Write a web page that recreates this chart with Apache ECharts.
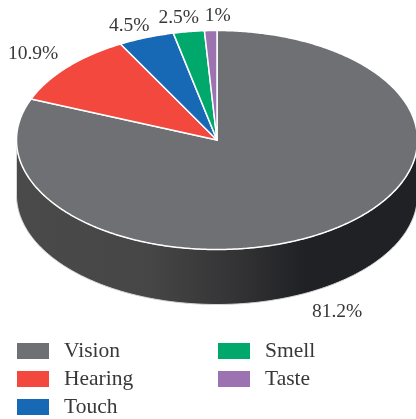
<!DOCTYPE html>
<html><head><meta charset="utf-8">
<style>html,body{margin:0;padding:0;background:#fff}#c{width:416px;height:419px}</style>
<script src="https://cdn.jsdelivr.net/npm/echarts@6/dist/echarts.min.js"></script>
</head><body><div id="c"></div>
<script>
const categories = ['Vision', 'Hearing', 'Touch', 'Smell', 'Taste'];
const values = [81.2, 10.9, 4.5, 2.5, 1];
const colors = ['#6f7074', '#f2483d', '#1769b5', '#00a96b', '#9c72b0'];
const labelOffsets = [[8, 26], [-34, -13], [-17, -12], [-10, -14], [7, -15]];
const legendColumns = [['Vision', 'Hearing', 'Touch'], ['Smell', 'Taste']];

const cx = 217, cy = 140, rx = 200.5, ry = 109.5, depth = 55;
const total = values.reduce((a, b) => a + b, 0);
const FONT = '19.5px "Liberation Serif", serif';
const ink = '#38383a';
const pt = (a, dy) => [cx + rx * Math.sin(a), cy + (dy || 0) - ry * Math.cos(a)];

function arcPts(a0, a1, dy) {
  const n = Math.max(2, Math.ceil((a1 - a0) / 0.01)), out = [];
  for (let i = 0; i <= n; i++) out.push(pt(a0 + (a1 - a0) * i / n, dy));
  return out;
}

function makeRender(idx) {
  return function () {
    const before = values.slice(0, idx).reduce((a, b) => a + b, 0);
    const a0 = before / total * 2 * Math.PI;
    const a1 = (before + values[idx]) / total * 2 * Math.PI;
    const mid = (a0 + a1) / 2;
    const children = [];
    // visible front wall: the part of the slice's arc lying on the lower half of the ellipse
    const s0 = Math.max(a0, Math.PI / 2), s1 = Math.min(a1, Math.PI * 3 / 2);
    if (s1 > s0) {
      const wall = arcPts(s0, s1, 0).concat(arcPts(s0, s1, depth).reverse());
      children.push({
        type: 'polygon', shape: { points: wall },
        style: {
          fill: new echarts.graphic.LinearGradient(0, 0, 1, 0, [
            { offset: 0, color: '#4b4a4a' },
            { offset: 0.33, color: '#464646' },
            { offset: 0.55, color: '#333335' },
            { offset: 0.72, color: '#202125' },
            { offset: 1, color: '#202125' }
          ]),
          stroke: '#d8d8d8', lineWidth: 1
        }
      });
    }
    children.push({
      type: 'polygon',
      shape: { points: [[cx, cy]].concat(arcPts(a0, a1, 0)) },
      style: { fill: colors[idx], stroke: '#fff', lineWidth: 1.5, lineJoin: 'round' }
    });
    const anchor = pt(mid, mid > Math.PI / 2 && mid < Math.PI * 3 / 2 ? depth : 0);
    children.push({
      type: 'text',
      style: {
        text: values[idx] + '%',
        x: anchor[0] + labelOffsets[idx][0], y: anchor[1] + labelOffsets[idx][1],
        fill: ink, font: FONT, align: 'center', verticalAlign: 'middle'
      }
    });
    return { type: 'group', children };
  };
}

const legendBase = {
  orient: 'vertical', top: 340, padding: 0, icon: 'rect', itemWidth: 32, itemHeight: 16, itemGap: 6,
  selectedMode: false,
  textStyle: { color: ink, fontFamily: '"Liberation Serif", serif', fontSize: 21.5, padding: [0, 0, 0, 10] }
};

const chart = echarts.init(document.getElementById('c'), null, { renderer: 'canvas' });
chart.setOption({
  animation: false,
  backgroundColor: '#fff',
  tooltip: { show: false },
  legend: [
    Object.assign({}, legendBase, { left: 17, data: legendColumns[0] }),
    Object.assign({}, legendBase, { left: 218, data: legendColumns[1] })
  ],
  series: categories.map((name, i) => ({
    type: 'custom', name, coordinateSystem: 'none', silent: true,
    itemStyle: { color: colors[i] },
    data: [values[i]], renderItem: makeRender(i)
  }))
});
</script></body></html>
